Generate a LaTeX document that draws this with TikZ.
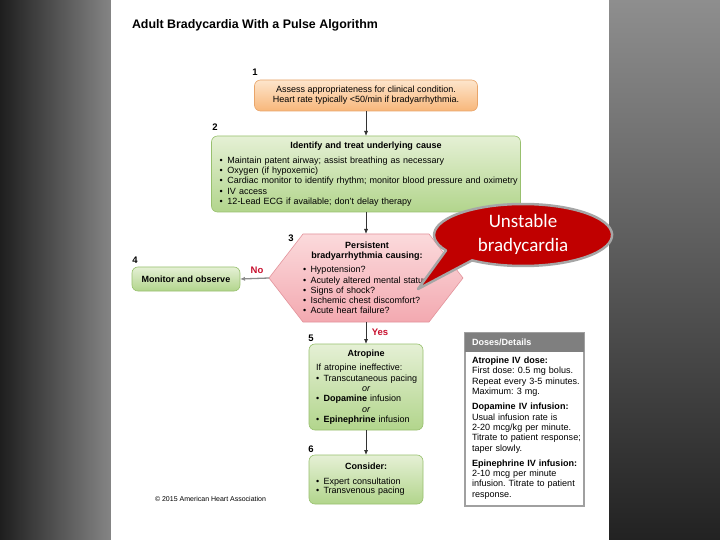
\documentclass[tikz,border=0pt]{standalone}
\usepackage{fontspec}
\setmainfont{Liberation Sans}
\newfontfamily\calloutfont{Carlito}
\usetikzlibrary{arrows.meta}
\frenchspacing
\definecolor{orT}{HTML}{FDE5CC}
\definecolor{orB}{HTML}{F8B77A}
\definecolor{orD}{HTML}{E9A56A}
\definecolor{grT}{HTML}{E5F0D5}
\definecolor{grB}{HTML}{B2D58C}
\definecolor{grD}{HTML}{98C06E}
\definecolor{pkT}{HTML}{FBDADC}
\definecolor{pkB}{HTML}{F3A9B0}
\definecolor{pkD}{HTML}{E3939B}
\definecolor{ahared}{HTML}{C8102E}
\definecolor{callred}{HTML}{C00000}
\definecolor{callgray}{HTML}{A6A6A6}
\definecolor{hdrgray}{HTML}{7F7F7F}
\definecolor{boxgray}{HTML}{A0A0A0}
\definecolor{arrowc}{HTML}{333333}
\definecolor{noarrow}{HTML}{8C8C8C}
\definecolor{bgdark}{HTML}{1E1E1E}
\definecolor{bgmid}{HTML}{858585}
\definecolor{bgtopR}{HTML}{8E8E8E}
\definecolor{bgbotR}{HTML}{222222}
\newcommand{\bodyfont}{\fontsize{9bp}{10.3bp}\selectfont}
\newcommand{\dosefont}{\fontsize{9.05bp}{10.4bp}\selectfont}
\newcommand{\stepfont}{\fontsize{9.5bp}{11bp}\selectfont\bfseries}
\newcommand{\ctr}[1]{\makebox[\linewidth][c]{#1}}
\newcommand{\bul}[1]{\mbox{\makebox[7.5bp][l]{\textbullet}#1}}
\newcommand{\bulw}[1]{\mbox{\makebox[8bp][l]{\textbullet}#1}}
\begin{document}
\begin{tikzpicture}[x=1bp,y=-1bp,
  every node/.style={inner sep=0pt, outer sep=0pt, font=\bodyfont},
  arr/.style={draw=arrowc, line width=0.9bp, -{Latex[length=5bp,width=4.2bp]}},
  noarr/.style={draw=noarrow, line width=1.3bp, -{Latex[length=5bp,width=4.2bp]}},
  orbox/.style={draw=orD, line width=0.6bp, rounded corners=6bp, top color=orT, bottom color=orB},
  grbox/.style={draw=grD, line width=0.6bp, rounded corners=6bp, top color=grT, bottom color=grB},
  stepnum/.style={font=\stepfont},
  answer/.style={font=\stepfont, text=ahared}]
\useasboundingbox (0,0) rectangle (720,540);
% background
\shade[left color=bgdark, right color=bgmid] (0,0) rectangle (111,540);
\shade[top color=bgtopR, bottom color=bgbotR] (609,0) rectangle (720,540);
\fill[white] (111,0) rectangle (609,540);
% title
\node[anchor=base west, font=\fontsize{12.4bp}{14bp}\selectfont\bfseries] (title) at (132,28.5) {Adult Bradycardia With a Pulse Algorithm};
% step numbers
\node[stepnum] (n1) at (255,72) {1};
\node[stepnum] (n2) at (215,127) {2};
\node[stepnum] (n3) at (291,238) {3};
\node[stepnum] (n4) at (135,260) {4};
\node[stepnum] (n5) at (311,338) {5};
\node[stepnum] (n6) at (311,449) {6};
% box 1
\node[orbox, minimum width=223bp, minimum height=31bp, align=center] (b1) at (366,95.5)
  {Assess appropriateness for clinical condition.\\Heart rate typically <50/min if bradyarrhythmia.};
% box 2
\node[grbox, text width=293bp, inner xsep=8bp, minimum height=76bp, align=left] (b2) at (366,174)
  {\ctr{\bfseries Identify and treat underlying cause}\\[4.7bp]
   \bulw{Maintain patent airway; assist breathing as necessary}\\
   \bulw{Oxygen (if hypoxemic)}\\
   \bulw{Cardiac monitor to identify rhythm; monitor blood pressure and oximetry}\\
   \bulw{IV access}\\
   \bulw{12-Lead ECG if available; don't delay therapy}};
% hexagon 3
\coordinate (hT) at (366,234);
\coordinate (hB) at (366,322);
\coordinate (hL) at (269,278);
\shadedraw[top color=pkT, bottom color=pkB, draw=pkD, line width=0.6bp]
  (303,234) -- (429,234) -- (463,278) -- (429,322) -- (303,322) -- (269,278) -- cycle;
\node[text width=128bp, align=left] (h3) at (367,278)
  {\ctr{\bfseries Persistent}\\
   \ctr{\bfseries bradyarrhythmia causing:}\\[3.7bp]
   \bul{Hypotension?}\\
   \bul{Acutely altered mental status?}\\
   \bul{Signs of shock?}\\
   \bul{Ischemic chest discomfort?}\\
   \bul{Acute heart failure?}};
% box 4
\node[grbox, minimum width=108bp, minimum height=24bp, font=\bodyfont\bfseries] (b4) at (186,279) {Monitor and observe};
% box 5
\node[grbox, text width=100bp, inner xsep=7bp, minimum height=86bp, align=left] (b5) at (366,387)
  {\ctr{\bfseries Atropine}\\[4.5bp]
   If atropine ineffective:\\
   \bul{Transcutaneous pacing}\\
   \ctr{\itshape or}\\
   \bul{\textbf{Dopamine} infusion}\\
   \ctr{\itshape or}\\
   \bul{\textbf{Epinephrine} infusion}};
% box 6
\node[grbox, text width=100bp, inner xsep=7bp, minimum height=49bp, align=left] (b6) at (366,479.5)
  {\ctr{\bfseries Consider:}\\[4bp]
   \bul{Expert consultation}\\[-0.8bp]
   \bul{Transvenous pacing}};
% doses box
\node[draw=boxgray, line width=1.2bp, fill=white, minimum width=119bp, minimum height=173bp] (doses) at (524.5,419.5) {};
\node[anchor=north, fill=hdrgray, minimum width=119bp, minimum height=19bp, text width=105bp, inner xsep=7bp, align=left, text=white, font=\dosefont\bfseries] (dh) at (doses.north) {Doses/Details};
\node[anchor=north west, text width=112bp, inner xsep=3bp, inner ysep=2bp, align=left, font=\dosefont] (db) at (469,355)
  {\textbf{Atropine IV dose:}\\
   First dose: 0.5 mg bolus.\\
   Repeat every 3-5 minutes.\\
   Maximum: 3 mg.\\[4.5bp]
   \textbf{Dopamine IV infusion:}\\
   Usual infusion rate is\\
   2-20 mcg/kg per minute.\\
   Titrate to patient response;\\
   taper slowly.\\[4.5bp]
   \textbf{Epinephrine IV infusion:}\\
   2-10 mcg per minute\\
   infusion. Titrate to patient\\
   response.};
% copyright
\node[anchor=west, font=\fontsize{7bp}{8bp}\selectfont] (copy) at (155,499) {\textcopyright{} 2015 American Heart Association};
% connectors
\draw[arr] (b1.south) -- (b2.north);
\draw[arr] (b2.south) -- (hT);
\draw[noarr] (hL) -- (b4.east);
\draw[arr] (hB) -- (b5.north);
\draw[arr] (b5.south) -- (b6.north);
\node[answer] (no) at (257,270) {No};
\node[answer] (yes) at (380,332) {Yes};
% callout
\coordinate (tip) at (418,289);
\fill[callred] (tip) -- (446.0,250.5) arc[start angle=150, end angle=485, x radius=89, y radius=31] -- cycle;
\draw[callgray, line width=2.5bp, line join=round] (tip) -- (446.0,250.5) arc[start angle=150, end angle=485, x radius=89, y radius=31] -- cycle;
\node[align=center, text=white, font=\calloutfont\fontsize{19bp}{24bp}\selectfont] (cb) at (523,234) {Unstable\\bradycardia};
\end{tikzpicture}
\end{document}
